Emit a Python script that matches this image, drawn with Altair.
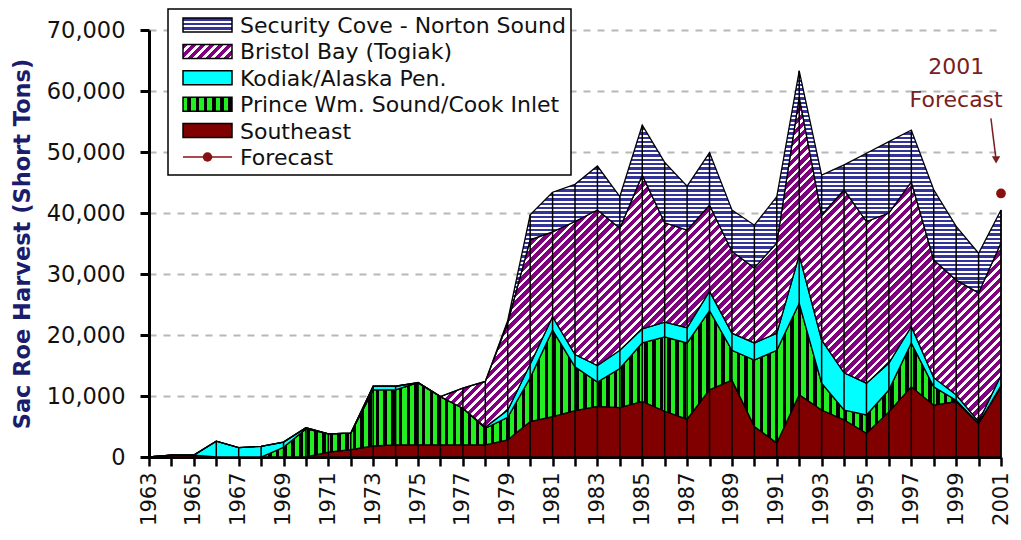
import math
import altair as alt
import pandas as pd

# ---------------- data ----------------
years = list(range(1963, 2002))
southeast = [0, 300, 300, 0, 0, 0, 0, 0, 800, 1200, 1800, 2000, 2000, 2000, 2000, 2000,
             2800, 5800, 6600, 7600, 8300, 8100, 9100, 7500, 6200, 11000, 12600, 5000,
             2300, 10200, 7700, 6100, 3900, 7400, 11500, 8500, 9100, 5500, 11500]
prince_wm = [0, 0, 0, 0, 0, 0, 1600, 4600, 3000, 2700, 9200, 9000, 10200, 7900, 6000, 2700,
             3700, 7200, 14200, 7200, 4000, 6400, 9600, 12200, 12500, 13000, 4900, 10900,
             15200, 15000, 4400, 1600, 3000, 3600, 7200, 3000, 200, 0, 200]
kodiak = [0, 0, 0, 2600, 1550, 1750, 850, 200, 0, 0, 600, 600, 0, 0, 0, 200,
          1200, 2200, 2200, 2000, 2700, 3000, 2300, 2400, 2500, 3200, 2800, 2800,
          2800, 7900, 7100, 6100, 5200, 4400, 2700, 1500, 900, 300, 1700]
bristol = [0, 0, 0, 0, 0, 0, 0, 0, 0, 0, 0, 0, 0, 0, 3300, 7500,
           14300, 20400, 13900, 21800, 25500, 20000, 25200, 16300, 16000, 14100, 13400, 12300,
           14800, 25900, 20500, 30000, 26500, 24600, 23700, 19300, 18800, 21100, 21700]
security = [0, 0, 0, 0, 0, 0, 0, 0, 0, 0, 0, 0, 0, 0, 0, 0,
            400, 4100, 6500, 6100, 7200, 5200, 8200, 9900, 7200, 8600, 6800, 7000,
            7600, 4300, 6500, 4100, 11200, 11700, 8500, 11500, 8800, 6500, 5400]
forecast_year = [2001]
forecast_value = [43200]

legend_names = ["Security Cove - Norton Sound", "Bristol Bay (Togiak)", "Kodiak/Alaska Pen.",
                "Prince Wm. Sound/Cook Inlet", "Southeast", "Forecast"]
note_text = ["2001", "Forecast"]
note_year = [1999.0, 1999.0]
note_value = [64000, 58600]
arrow_from = [2000.55, 55500]
arrow_to = [2000.78, 48700]

# ---------------- layout / style ----------------
PAD_L, PAD_T, PAD_R, PAD_B = 141, 22, 12, 73
W, H = 852, 427
YMAX = 70000
FONT = "DejaVu Sans"
DARKRED = "#7a2020"

df = pd.DataFrame({"year": years, "se": southeast, "pws": prince_wm, "kod": kodiak,
                   "bb": bristol, "sc": security})
df["c0"] = 0
df["c1"] = df["se"]
df["c2"] = df["c1"] + df["pws"]
df["c3"] = df["c2"] + df["kod"]
df["c4"] = df["c3"] + df["bb"]
df["c5"] = df["c4"] + df["sc"]


def stripes(c1, c2, n, frac, x2, y2):
    stops = []
    for k in range(n):
        a = k / n
        m = (k + frac) / n
        b = min((k + 1) / n, 1.0)
        stops += [{"offset": round(a, 6), "color": c1}, {"offset": round(m, 6), "color": c1},
                  {"offset": round(m, 6), "color": c2}, {"offset": round(b, 6), "color": c2}]
    return {"gradient": "linear", "x1": 0, "y1": 0, "x2": x2, "y2": y2, "stops": stops}


def diag(c1, c2, w, h, period, frac):
    c = (w + h) / (w * w + h * h)
    n = max(1, round((w + h) / (period * math.sqrt(2))))
    return stripes(c1, c2, n, frac, c * w, c * h)


BLUE, PURPLE, GREEN, CYAN, RED = "#333399", "#800080", "#22ee22", "#00ffff", "#800000"

h_purple = df["c4"].max() / YMAX * H
h_blue = df["c5"].max() / YMAX * H
fill_blue = stripes(BLUE, "#ffffff", max(1, round(h_blue / 4.4)), 0.55, 0, 1)
fill_purple = diag(PURPLE, "#ffffff", W, h_purple, 6.4, 0.6)
fill_green = stripes(GREEN, "#000000", round(W / 7.7), 0.55, 1, 0)

xscale = alt.Scale(domain=[1963, 2001], nice=False, zero=False)
yscale = alt.Scale(domain=[0, YMAX], nice=False)

x_axis = alt.Axis(values=years, format="d", labelExpr="datum.value % 2 == 1 ? datum.label : ''",
                  labelAngle=-90, labelFont=FONT, labelFontSize=21, labelColor="#111111",
                  labelPadding=6, labelOverlap=False, labelBound=False, labelFlush=False,
                  tickSize=9, tickWidth=2.5,
                  tickColor="black", domainColor="black", domainWidth=3, grid=False, title="")
y_axis = alt.Axis(values=list(range(0, YMAX + 1, 10000)),
                  labelExpr="format(datum.value, ',')", labelFont=FONT,
                  labelFontSize=22.5, labelColor="#111111", labelPadding=15, tickSize=9,
                  tickWidth=3, tickColor="black", domainColor="black", domainWidth=3,
                  grid=True, gridColor="#b8b8b8", gridDash=[7, 7], gridWidth=2,
                  title="Sac Roe Harvest (Short Tons)", titleFont=FONT, titleFontSize=22.5,
                  titleFontWeight="bold", titleColor="#1c1c6c", titleAngle=270,
                  titleX=14 - PAD_L, titleY=H / 2, titleAlign="center", titleBaseline="middle")


def X(field):
    return alt.X(f"{field}:Q", scale=xscale, axis=x_axis)


def Y(field):
    return alt.Y(f"{field}:Q", scale=yscale, axis=y_axis)


base = alt.Chart(df)


def area(top, bottom, fill):
    return base.mark_area(fill=fill, fillOpacity=1, stroke="black", strokeWidth=1.3,
                          interpolate="linear").encode(
        x=X("year"), y=Y(top), y2=alt.Y2(f"{bottom}:Q"))


areas = [
    area("c1", "c0", RED),
    area("c2", "c1", fill_green),
    area("c3", "c2", CYAN),
    area("c4", "c3", fill_purple),
    area("c5", "c4", fill_blue),
]

drops = base.mark_rule(color="black", strokeWidth=1.5).encode(
    x=X("year"), y=Y("c5"), y2=alt.Y2("c0:Q"))

fc_df = pd.DataFrame({"year": forecast_year, "value": forecast_value})
forecast = alt.Chart(fc_df).mark_point(filled=True, shape="circle", size=95, color="#8a0f0f",
                                       opacity=1).encode(x=X("year"), y=Y("value"))

note_df = pd.DataFrame({"year": note_year, "value": note_value, "text": note_text})
notes = alt.Chart(note_df).mark_text(font=FONT, fontSize=22, color=DARKRED, align="center",
                                     baseline="middle").encode(
    x=X("year"), y=Y("value"), text="text:N")

arrow_df = pd.DataFrame({"x": [arrow_from[0]], "y": [arrow_from[1]],
                         "x2": [arrow_to[0]], "y2": [arrow_to[1]]})
arrow_line = alt.Chart(arrow_df).mark_rule(color=DARKRED, strokeWidth=1.5).encode(
    x=X("x"), y=Y("y"), x2="x2:Q", y2="y2:Q")
arrow_head = alt.Chart(arrow_df).mark_point(shape="triangle-down", filled=True, size=70,
                                            color=DARKRED, opacity=1).encode(
    x=X("x2"), y=Y("y2"))

# ---------------- legend (drawn by hand to show the pattern swatches) ----------------
# page-pixel layout of the legend box, converted to plot-relative pixels
OX = 8 + PAD_L
LX0, LX1, LY0, LY1 = 168 - OX, 571 - OX, -21, 145
SW_X0, SW_X1, SW_H = 183 - OX, 232 - OX, 14
ROW0, ROWSTEP = -5, 26.4
TXT_X = 240 - OX

legend_layers = [
    alt.Chart(pd.DataFrame({"k": [0]})).mark_rect(fill="white", stroke="black",
                                                  strokeWidth=1.5).encode(
        x=alt.value(LX0), x2=alt.value(LX1), y=alt.value(LY0), y2=alt.value(LY1))
]
sw_w = SW_X1 - SW_X0
swatch_fills = [
    stripes(BLUE, "#ffffff", 3, 0.55, 0, 1),
    diag(PURPLE, "#ffffff", sw_w, SW_H, 6.4, 0.6),
    CYAN,
    stripes(GREEN, "#000000", 6, 0.55, 1, 0),
    RED,
]
for i, name in enumerate(legend_names):
    cy = ROW0 + i * ROWSTEP
    if i < len(swatch_fills):
        legend_layers.append(
            alt.Chart(pd.DataFrame({"k": [i]})).mark_rect(fill=swatch_fills[i], stroke="black",
                                                          strokeWidth=1.5).encode(
                x=alt.value(SW_X0), x2=alt.value(SW_X1),
                y=alt.value(cy - SW_H / 2), y2=alt.value(cy + SW_H / 2)))
    else:
        legend_layers.append(
            alt.Chart(pd.DataFrame({"k": [i]})).mark_rule(color="#8a0f0f", strokeWidth=1.5).encode(
                x=alt.value(SW_X0), x2=alt.value(SW_X1), y=alt.value(cy)))
        legend_layers.append(
            alt.Chart(pd.DataFrame({"k": [i]})).mark_point(filled=True, shape="circle", size=90,
                                                           color="#8a0f0f", opacity=1).encode(
                x=alt.value((SW_X0 + SW_X1) / 2), y=alt.value(cy)))
    legend_layers.append(
        alt.Chart(pd.DataFrame({"label": [name]})).mark_text(
            font=FONT, fontSize=22, color="#111111", align="left", baseline="middle").encode(
            x=alt.value(TXT_X), y=alt.value(cy + 1), text="label:N"))

chart = alt.layer(*areas, drops, forecast, notes, arrow_line, arrow_head, *legend_layers).properties(
    width=W, height=H, autosize="none",
    padding={"left": PAD_L, "top": PAD_T, "right": PAD_R, "bottom": PAD_B},
    background="white",
).configure_view(stroke="transparent")

chart.save("out.html", embed_options={"renderer": "svg", "actions": False})
